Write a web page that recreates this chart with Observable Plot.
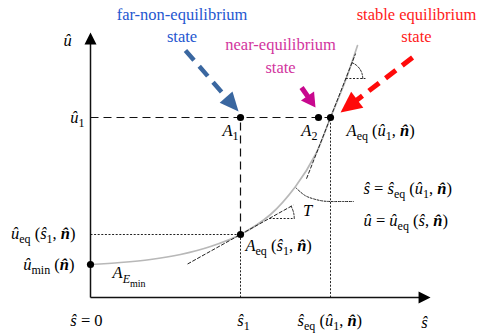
<!DOCTYPE html>
<html><head><meta charset="utf-8">
<script src="https://cdn.jsdelivr.net/npm/d3@7"></script>
<script src="https://cdn.jsdelivr.net/npm/@observablehq/plot@0.6"></script>
<style>html,body{margin:0;padding:0;background:#fff} svg{display:block} #chart svg, #chart text{font-family:"Liberation Serif","DejaVu Serif","Noto Serif","Times New Roman",serif !important}</style>
</head><body><div id="chart"></div>
<script>
// ---------- data ----------
// equilibrium curve u_eq(s)
const curveS = [0, 0.2, 0.4, 0.6, 0.8, 1.0, 1.2, 1.367, 1.5, 1.6, 1.7, 1.78];
const curveU = [0.33, 0.35, 0.38, 0.43, 0.51, 0.63, 0.83, 1.11, 1.43, 1.80, 2.17, 2.52];
// key levels
const u1 = 1.8, s1 = 1.0, sEq = 1.6, uEqS1 = 0.63, uMin = 0.33;
const axisEndS = 2.267, axisEndU = 2.65;
// state points: A_Emin, A_eq(s1), A1, A2, A_eq(u1)
const pointS = [0, 1.0, 1.0, 1.52, 1.6];
const pointU = [0.33, 0.63, 1.8, 1.8, 1.8];
// tangents at A_eq(s1) and A_eq(u1)
const tangentS = [1.0, 1.6];
const tangentU = [0.63, 1.8];
const tangentSlope = [0.836, 3.825];
const tangentFrom = [-0.353, -0.16];
const tangentTo = [0.353, 0.167];
// angle marks on the tangents
const angleU = [0.79, 2.19];
const angleEndS = [1.347, 1.833];
const angleR = [0.167, 0.113];
// iso line s = s_eq(u1, n)
const isoS = [1.367, 1.43, 1.49, 1.55, 1.6, 1.68, 1.753];
const isoU = [1.10, 1.02, 0.985, 0.965, 0.96, 0.96, 0.96];
// pointer arrows: far-non-equilibrium, near-equilibrium, stable equilibrium
const arrowFromS = [0.633, 1.407, 2.147];
const arrowFromU = [2.47, 2.10, 2.40];
const arrowToS = [0.987, 1.5, 1.667];
const arrowToU = [1.86, 1.90, 1.85];
// texts
const stateLabels = ["far-non-equilibrium\nstate", "near-equilibrium\nstate", "stable equilibrium\nstate"];
const mathLabels = [
  "/{û}", "/{û}_{1}", "/{û}_{eq} (/{ŝ}_{1}, *{n̂})", "/{û}_{min} (*{n̂})",
  "/{A}_/{E}__{min}", "/{ŝ} = 0", "/{ŝ}_{1}", "/{ŝ}_{eq} (/{û}_{1}, *{n̂})", "/{ŝ}",
  "/{A}_{1}", "/{A}_{2}", "/{A}_{eq} (/{û}_{1}, *{n̂})", "/{A}_{eq} (/{ŝ}_{1}, *{n̂})",
  "/{ŝ} = /{ŝ}_{eq} (/{û}_{1}, *{n̂})", "/{û} = /{û}_{eq} (/{ŝ}, *{n̂})", "/{T}"
];

// ---------- layout ----------
const W = 485, H = 333;
const FONT = "'Liberation Serif','DejaVu Serif','Noto Serif',serif";
const XD = [-0.6, 2.6333], YD = [-0.36, 2.97];
const px = s => (s - XD[0]) / (XD[1] - XD[0]) * W;
const py = u => H - (u - YD[0]) / (YD[1] - YD[0]) * H;
const sOf = p => XD[0] + p / W * (XD[1] - XD[0]);
const uOf = p => YD[0] + (H - p) / H * (YD[1] - YD[0]);

const curve = curveS.map((s, i) => ({s, u: curveU[i]}));
const iso = isoS.map((s, i) => ({s, u: isoU[i]}));
const points = pointS.map((s, i) => ({s, u: pointU[i]}));

const tangents = tangentS.map((s, i) => ({
  s1: s + tangentFrom[i], u1: tangentU[i] + tangentFrom[i] * tangentSlope[i],
  s2: s + tangentTo[i], u2: tangentU[i] + tangentTo[i] * tangentSlope[i]
}));

const angleLines = [], angleArcs = [];
tangentS.forEach((s, i) => {
  const s0 = s + (angleU[i] - tangentU[i]) / tangentSlope[i];
  angleLines.push({s1: s0, u1: angleU[i], s2: angleEndS[i], u2: angleU[i]});
  const cx = px(s0), cy = py(angleU[i]);
  const th = Math.atan2(py(tangentU[i]) - py(tangentU[i] + tangentSlope[i]), px(s + 1) - px(s));
  const r = px(angleR[i]) - px(0);
  for (let k = 0; k <= 16; k++) {
    const a = th * k / 16;
    angleArcs.push({id: i, s: sOf(cx + r * Math.cos(a)), u: uOf(cy - r * Math.sin(a))});
  }
});

function head(fs, fu, ts, tu, len, wid, id) {
  const fx = px(fs), fy = py(fu), tx = px(ts), ty = py(tu);
  const L = Math.hypot(tx - fx, ty - fy), dx = (tx - fx) / L, dy = (ty - fy) / L;
  const bx = tx - dx * len, by = ty - dy * len, nx = -dy, ny = dx;
  return {
    poly: [[tx, ty], [bx + nx * wid / 2, by + ny * wid / 2], [bx - nx * wid / 2, by - ny * wid / 2]]
      .map(([x, y]) => ({id, s: sOf(x), u: uOf(y)})),
    base: {s: sOf(bx + dx * 2), u: uOf(by + dy * 2)}
  };
}

const arrowStyle = [
  {color: "#3a67a0", width: 4.5, dash: "13,8", len: 19, wid: 17},
  {color: "#c8088e", width: 5, dash: null, len: 14, wid: 16},
  {color: "#ff0a0a", width: 5, dash: "13,8", len: 21, wid: 20}
];
const arrows = arrowFromS.map((s, i) => {
  const h = head(s, arrowFromU[i], arrowToS[i], arrowToU[i], arrowStyle[i].len, arrowStyle[i].wid, i);
  return {s1: s, u1: arrowFromU[i], s2: h.base.s, u2: h.base.u, poly: h.poly, st: arrowStyle[i]};
});

const yHead = head(0, 0, 0, axisEndU, 12, 12, "y");
const xHead = head(0, 0, axisEndS, 0, 12, 12, "x");

const statePos = [[0.61, 2.735], [1.267, 2.43], [2.173, 2.735]];
const stateColor = ["#2557d0", "#d2359e", "#ff1a1a"];
const mathPos = [
  [-0.153, 2.57, "middle"], [-0.04, 1.8, "end"], [-0.1, 0.64, "end"], [-0.107, 0.33, "end"],
  [0.147, 0.245, "start"], [-0.027, -0.23, "middle"], [1.02, -0.23, "middle"], [1.38, -0.23, "start"],
  [2.227, -0.25, "middle"], [0.987, 1.67, "end"], [1.513, 1.67, "end"], [1.707, 1.67, "start"],
  [1.033, 0.52, "start"], [1.82, 1.09, "start"], [1.82, 0.77, "start"], [1.447, 0.87, "middle"]
];
const mathText = mathLabels.map((t, i) => ({t, s: mathPos[i][0], u: mathPos[i][1], a: mathPos[i][2]}));

const marks = [
  // guide lines
  Plot.link([{s1: 0, u1: u1, s2: sEq, u2: u1}, {s1: s1, u1: uEqS1, s2: s1, u2: u1}],
    {x1: "s1", y1: "u1", x2: "s2", y2: "u2", stroke: "#111", strokeWidth: 1.2, strokeDasharray: "8,5"}),
  Plot.link([{s1: 0, u1: uEqS1, s2: s1, u2: uEqS1}, {s1: s1, u1: 0, s2: s1, u2: uEqS1}, {s1: sEq, u1: 0, s2: sEq, u2: u1}],
    {x1: "s1", y1: "u1", x2: "s2", y2: "u2", stroke: "#222", strokeWidth: 1, strokeDasharray: "2,1.6"}),
  Plot.line(iso, {x: "s", y: "u", curve: "catmull-rom", stroke: "#222", strokeWidth: 1, strokeDasharray: "2,1.6"}),
  // equilibrium curve
  Plot.line(curve, {x: "s", y: "u", curve: "catmull-rom", stroke: "#b8b8b8", strokeWidth: 1.7}),
  // tangents
  Plot.link(tangents, {x1: "s1", y1: "u1", x2: "s2", y2: "u2", stroke: "#222", strokeWidth: 1, strokeDasharray: "4,1.5"}),
  Plot.link(angleLines, {x1: "s1", y1: "u1", x2: "s2", y2: "u2", stroke: "#222", strokeWidth: 1, strokeDasharray: "2,1.6"}),
  Plot.line(angleArcs, {x: "s", y: "u", z: "id", stroke: "#222", strokeWidth: 1, strokeDasharray: "2,1.6"}),
  // axes
  Plot.link([{s1: 0, u1: 0, s2: 0, u2: yHead.base.u}, {s1: 0, u1: 0, s2: xHead.base.s, u2: 0}],
    {x1: "s1", y1: "u1", x2: "s2", y2: "u2", stroke: "#111", strokeWidth: 1.5}),
  Plot.line([...yHead.poly, ...xHead.poly], {x: "s", y: "u", z: "id", fill: "#000", stroke: "none"}),
  // state points
  Plot.dot(points, {x: "s", y: "u", r: 3.6, fill: "#000", stroke: "none"}),
  // pointer arrows
  ...arrows.flatMap(a => [
    Plot.link([a], {x1: "s1", y1: "u1", x2: "s2", y2: "u2", stroke: a.st.color, strokeWidth: a.st.width,
      strokeDasharray: a.st.dash || undefined}),
    Plot.line(a.poly, {x: "s", y: "u", fill: a.st.color, stroke: "none"})
  ]),
  // texts
  ...stateLabels.map((t, i) => Plot.text([t], {x: () => statePos[i][0], y: () => statePos[i][1], text: d => d,
    fill: stateColor[i], fontSize: 16.5, lineHeight: 1.36, fontFamily: FONT})),
  ...["middle", "start", "end"].map(a => Plot.text(mathText.filter(d => d.a === a),
    {x: "s", y: "u", text: "t", textAnchor: a, fill: "#000", fontSize: 16.5, fontFamily: FONT}))
];

const svg = Plot.plot({
  width: W, height: H, margin: 0,
  x: {domain: XD, axis: null}, y: {domain: YD, axis: null},
  style: {background: "#fff", overflow: "visible"},
  marks
});

// render simple math markup (subscripts, italic, bold) as tspans
function richify(root) {
  const NS = "http://www.w3.org/2000/svg";
  root.querySelectorAll("text").forEach(t => {
    const raw = t.textContent;
    if (!/(__|_\/|_|\*|\/)\{/.test(raw)) return;
    const re = /(__|_\/|_|\*|\/)\{([^}]*)\}/g;
    const parts = []; let last = 0, m;
    while ((m = re.exec(raw))) {
      if (m.index > last) parts.push({text: raw.slice(last, m.index), kind: ""});
      parts.push({text: m[2], kind: m[1]});
      last = re.lastIndex;
    }
    if (last < raw.length) parts.push({text: raw.slice(last), kind: ""});
    t.textContent = "";
    let cur = 0;
    for (const p of parts) {
      const ts = document.createElementNS(NS, "tspan");
      let shift = 0;
      if (p.kind === "_" || p.kind === "_/") { shift = 4.5; ts.setAttribute("font-size", "12"); }
      if (p.kind === "__") { shift = 8.5; ts.setAttribute("font-size", "10"); }
      if (p.kind === "/" || p.kind === "_/") ts.setAttribute("font-style", "italic");
      if (p.kind === "*") { ts.setAttribute("font-style", "italic"); ts.setAttribute("font-weight", "bold"); }
      if (shift !== cur) { ts.setAttribute("dy", shift - cur); cur = shift; }
      ts.textContent = p.text;
      t.appendChild(ts);
    }
  });
}
richify(svg);
document.getElementById("chart").appendChild(svg);
</script>
</body></html>
